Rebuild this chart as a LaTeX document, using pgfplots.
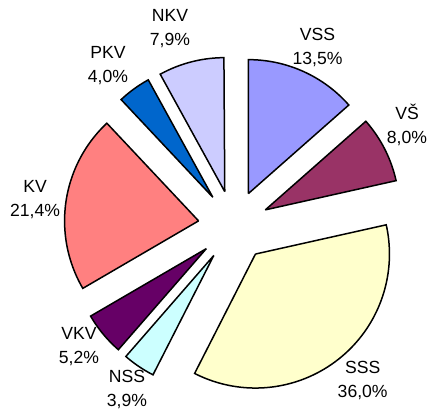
\documentclass[border=0pt]{standalone}
\usepackage{fontspec}
\setmainfont{Liberation Sans}
\usepackage{pgfplots}
\usepackage{pgfplotstable}
\pgfplotsset{compat=1.18}
\definecolor{cVSS}{HTML}{9999FF}
\definecolor{cVS}{HTML}{993366}
\definecolor{cSSS}{HTML}{FFFFCC}
\definecolor{cNSS}{HTML}{CCFFFF}
\definecolor{cVKV}{HTML}{660066}
\definecolor{cKV}{HTML}{FF8080}
\definecolor{cPKV}{HTML}{0066CC}
\definecolor{cNKV}{HTML}{CCCCFF}
\pgfplotstableread{
label value col lx ly
VSS 13.5 cVSS 317.5 367.5
VŠ 8.0 cVS 407 290
SSS 36.0 cSSS 362.7 35
NSS 3.9 cNSS 127 25.5
VKV 5.2 cVKV 79 68
KV 21.4 cKV 35 215
PKV 4.0 cPKV 108 349.5
NKV 7.9 cNKV 170 386
}\piedata
\newcommand\labeltext[1]{\pgfplotstablegetelem{#1}{label}\of\piedata\pgfplotsretval\\%
\pgfplotstablegetelem{#1}{value}\of\piedata\pgfmathprintnumber[fixed,fixed zerofill,precision=1,use comma,assume math mode=true]{\pgfplotsretval}\%}
\begin{document}
\begin{tikzpicture}
\begin{axis}[width=430bp,height=415bp,scale only axis,xmin=0,xmax=430,ymin=0,ymax=415,hide axis,clip=false]
\def\cx{233.7}\def\cy{189}\def\R{134}\def\E{35.5}
\xdef\cum{0}
\pgfplotsinvokeforeach{0,...,7}{
 \pgfplotstablegetelem{#1}{value}\of\piedata \let\val\pgfplotsretval
 \pgfplotstablegetelem{#1}{col}\of\piedata \let\thiscol\pgfplotsretval
 \pgfplotstablegetelem{#1}{lx}\of\piedata \let\lx\pgfplotsretval
 \pgfplotstablegetelem{#1}{ly}\of\piedata \let\ly\pgfplotsretval
 \pgfmathsetmacro\angA{\cum}
 \pgfmathsetmacro\angB{\cum+3.6*\val}
 \pgfmathsetmacro\angAA{\angA+1}
 \pgfmathsetmacro\angM{(\angA+\angB)/2}
 \pgfmathsetmacro\ox{\cx+\E*sin(\angM)}
 \pgfmathsetmacro\oy{\cy+\E*cos(\angM)}
 \edef\temp{\noexpand\addplot[fill=\thiscol,draw=black,line width=1.5bp,line join=miter,samples at={-1,\angA,\angAA,...,\angB,\angB,-1}] ({\ox+(x<-0.5?0:\R)*sin(x)},{\oy+(x<-0.5?0:\R)*cos(x)});
   \noexpand\node[font=\noexpand\fontsize{17.6bp}{24bp}\noexpand\selectfont,align=center,inner sep=0pt,text=black] at (axis cs:\lx,\ly) {\noexpand\labeltext{#1}};}
 \temp
 \xdef\cum{\angB}
}
\end{axis}
\pgfresetboundingbox
\path (current axis.south west) rectangle (current axis.north east);
\end{tikzpicture}
\end{document}
